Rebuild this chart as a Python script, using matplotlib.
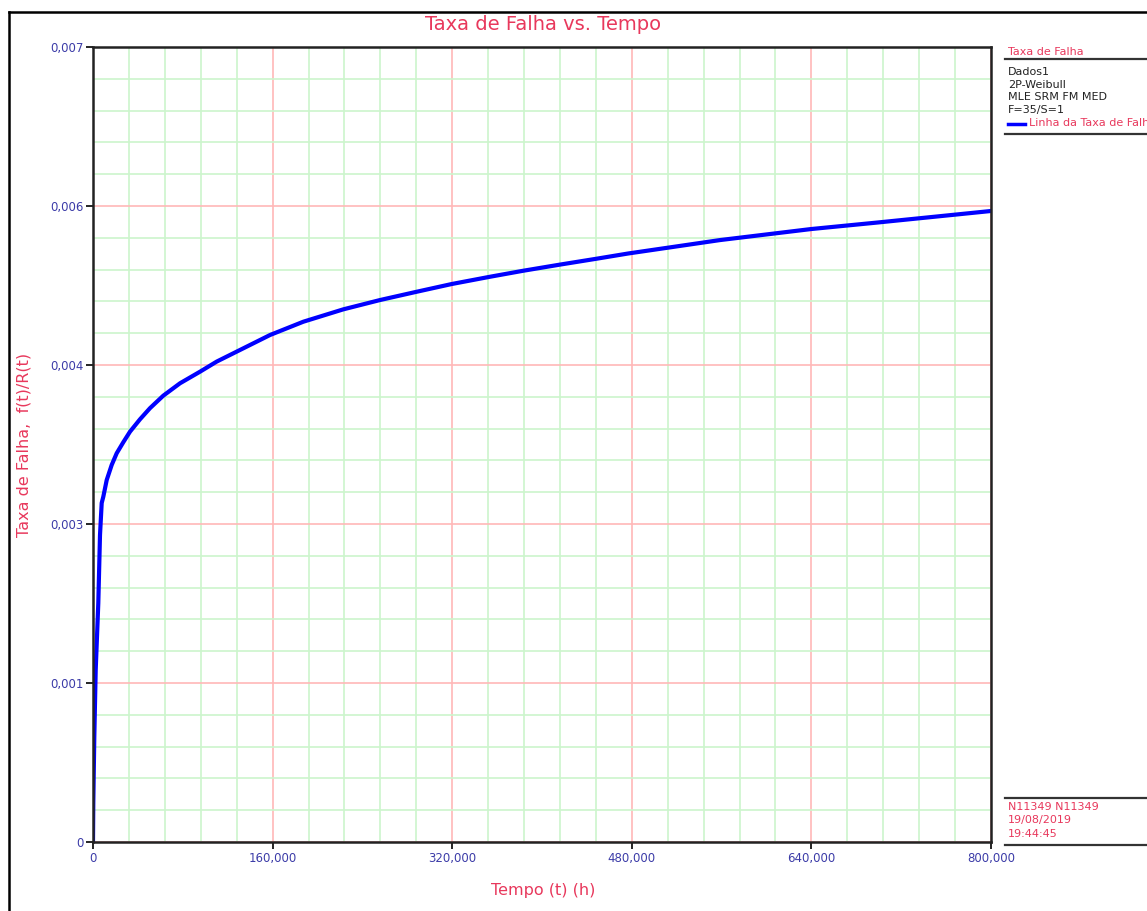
import matplotlib
matplotlib.use("Agg")
import matplotlib.pyplot as plt
from matplotlib.lines import Line2D
import numpy as np

# ---- data ----
tempo_h = [0, 267, 1158, 2405, 4722, 6236, 7750, 9176, 12205, 16659, 21114,
           26993, 32962, 41871, 50780, 62628, 77506, 95323, 110201, 157684,
           187350, 222985, 255680, 288376, 319556, 353676, 383342, 416038,
           448733, 476884, 558575, 639645, 699333, 800000]
taxa_falha = [0.0, 0.000343, 0.000925, 0.001514, 0.002104, 0.002703, 0.002985,
              0.003040, 0.003187, 0.003320, 0.003423, 0.003520, 0.003613,
              0.003722, 0.003820, 0.003930, 0.004039, 0.004141, 0.004230,
              0.004464, 0.004581, 0.004690, 0.004772, 0.004845, 0.004913,
              0.004977, 0.005030, 0.005084, 0.005136, 0.005182, 0.005300,
              0.005397, 0.005455, 0.005556]

x_major = [0, 160000, 320000, 480000, 640000, 800000]
x_labels = ["0", "160,000", "320,000", "480,000", "640,000", "800,000"]
y_major = [0, 0.0014, 0.0028, 0.0042, 0.0056, 0.007]
y_labels = ["0", "0,001", "0,003", "0,004", "0,006", "0,007"]
x_minor_step = 32000
y_minor_step = 0.00028

legend_title = "Taxa de Falha"
legend_info = ["Dados1", "2P-Weibull", "MLE SRM FM MED", "F=35/S=1"]
legend_series = "Linha da Taxa de Falha"
footer = ["N11349 N11349", "19/08/2019", "19:44:45"]

RED = "#e8385c"
TICK = "#3c3ca8"
W, H = 1147, 911

fig = plt.figure(figsize=(W / 100, H / 100), dpi=100)
ax = fig.add_axes([93 / W, 1 - 842 / H, (991 - 93) / W, (842 - 47) / H])

xm = np.arange(0, 800000 + 1, x_minor_step)
ym = np.arange(0, 0.007 + 1e-9, y_minor_step)
ax.set_xticks(xm, minor=True)
ax.set_yticks(ym, minor=True)
ax.grid(True, which="minor", color="#ccf5cc", linewidth=1.2)
ax.grid(True, which="major", color="#ffb8b8", linewidth=1.2)
ax.set_axisbelow(True)

ax.plot(tempo_h, taxa_falha, color="#0000ff", linewidth=3.0, solid_joinstyle="round")

ax.set_xlim(0, 800000)
ax.set_ylim(0, 0.007)
ax.set_xticks(x_major)
ax.set_xticklabels(x_labels)
ax.set_yticks(y_major)
ax.set_yticklabels(y_labels)
ax.tick_params(which="minor", length=0)
ax.tick_params(which="major", length=5, width=1.2, color="black",
               labelcolor=TICK, labelsize=8.5, pad=2)
for s in ax.spines.values():
    s.set_linewidth(1.8)
    s.set_color("#222222")

fig.text(543 / W, 1 - 890 / H, "Tempo (t) (h)", color=RED, fontsize=11.5,
         ha="center", va="center")
fig.text(24 / W, 1 - 445 / H, "Taxa de Falha,  f(t)/R(t)", color=RED,
         fontsize=11.5, ha="center", va="center", rotation=90)
fig.text(543 / W, 1 - 24 / H, "Taxa de Falha vs. Tempo", color=RED,
         fontsize=14, ha="center", va="center")

# outer frame
fig.add_artist(Line2D([8.5 / W, 8.5 / W], [0, 1 - 12 / H], color="black", lw=1.8,
                      transform=fig.transFigure))
fig.add_artist(Line2D([8.5 / W, 1], [1 - 12 / H, 1 - 12 / H], color="black", lw=1.8,
                      transform=fig.transFigure))

def hline(y, x0=1005):
    fig.add_artist(Line2D([x0 / W, 1], [1 - y / H, 1 - y / H], color="#333333",
                          lw=1.6, transform=fig.transFigure))

fs = 8
fig.text(1008 / W, 1 - 52 / H, legend_title, color=RED, fontsize=fs,
         ha="left", va="center")
hline(59)
for i, t in enumerate(legend_info):
    fig.text(1008 / W, 1 - (72 + 12.7 * i) / H, t, color="#222222", fontsize=fs,
             ha="left", va="center")
fig.add_artist(Line2D([1008 / W, 1025 / W], [1 - 124 / H, 1 - 124 / H],
                      color="#0000ff", lw=2.5, transform=fig.transFigure))
fig.text(1029 / W, 1 - 123 / H, legend_series, color=RED, fontsize=fs,
         ha="left", va="center")
hline(134)

hline(798)
for i, t in enumerate(footer):
    fig.text(1008 / W, 1 - (807 + 13.5 * i) / H, t, color=RED, fontsize=fs,
             ha="left", va="center")
hline(845)

fig.savefig("out.png", dpi=100, facecolor="white")
